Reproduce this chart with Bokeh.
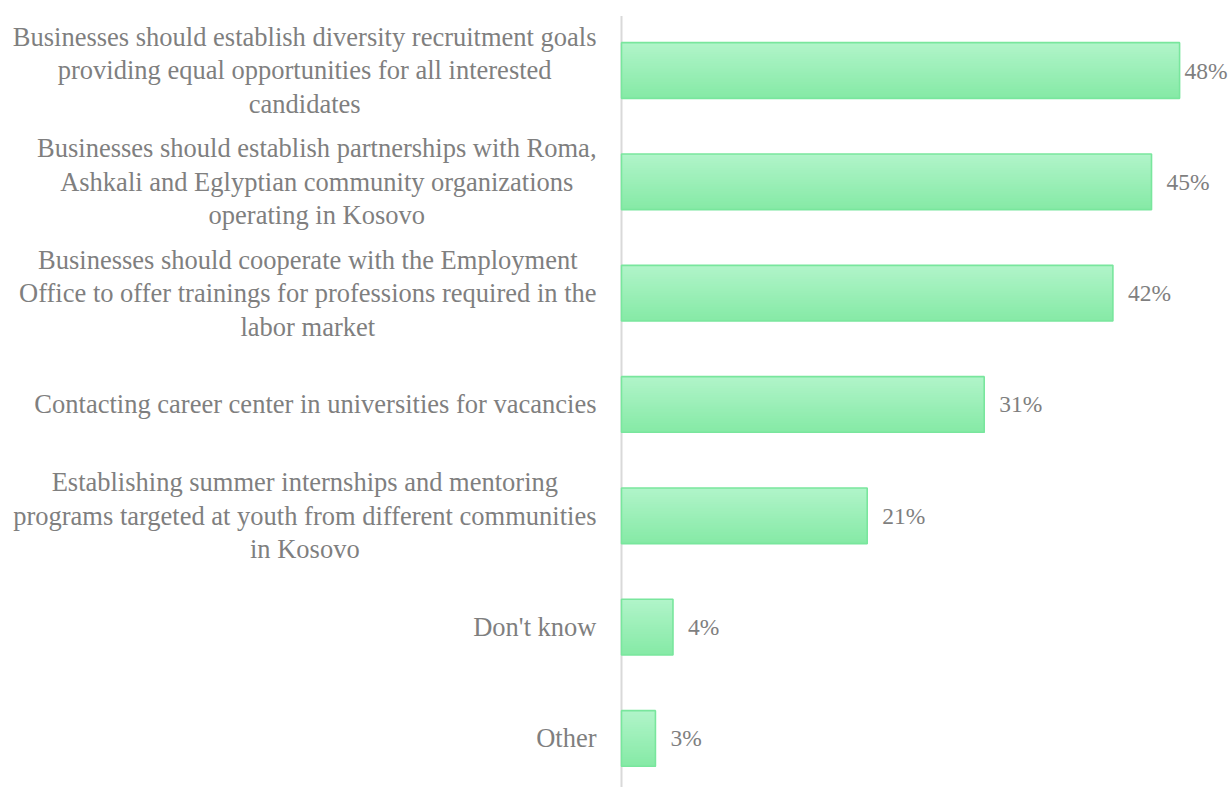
from bokeh.plotting import figure
from bokeh.models import Range1d, ColumnDataSource
from bokeh.core.properties import value
from bokeh.embed import file_html
from bokeh.resources import INLINE
import numpy as np

# ---- data ----
categories = [
    "Businesses should establish diversity recruitment goals\nproviding equal opportunities for all interested\ncandidates",
    "Businesses should establish partnerships with Roma,\nAshkali and Eglyptian community organizations\noperating in Kosovo",
    "Businesses should cooperate with the Employment\nOffice to offer trainings for professions required in the\nlabor market",
    "Contacting career center in universities for vacancies",
    "Establishing summer internships and mentoring\nprograms targeted at youth from different communities\nin Kosovo",
    "Don't know",
    "Other",
]
values = [47.7, 45.3, 42.0, 31.0, 21.0, 4.4, 2.9]
value_labels = ["48%", "45%", "42%", "31%", "21%", "4%", "3%"]

# ---- layout ----
W, H = 1231, 787
PX_PER_UNIT = 11.7          # horizontal scale (px per %)
ZERO_PX = 621               # x pixel of 0 inside the figure
ROW_PX = 111.33             # row spacing in px
FIRST_ROW_PX = 70           # y pixel of first row centre inside the figure

n = len(categories)
idx = np.arange(n)
x_start = -ZERO_PX / PX_PER_UNIT
x_end = (W - ZERO_PX) / PX_PER_UNIT
y_top = -FIRST_ROW_PX / ROW_PX
y_bottom = (H - FIRST_ROW_PX) / ROW_PX

p = figure(width=W, height=H, output_backend="svg", toolbar_location=None,
           x_range=Range1d(x_start, x_end), y_range=Range1d(y_bottom, y_top),
           min_border=0, min_border_left=0, min_border_right=0,
           min_border_top=0, min_border_bottom=0)
p.axis.visible = False
p.grid.visible = False
p.outline_line_color = None
p.background_fill_color = "white"
p.border_fill_color = "white"

# vertical axis line
p.line(x=[0, 0], y=[-0.49, n + 0.5], line_color="#d9d9d9", line_width=2)

# gradient bars (each band runs from its top down to the bar bottom)
bar_h = 0.5
N = 24
top_rgb = np.array([0xb0, 0xf4, 0xc9])
bot_rgb = np.array([0x86, 0xea, 0xa6])
for k in range(N):
    t = k / (N - 1)
    c = top_rgb * (1 - t) + bot_rgb * t
    col = "#%02x%02x%02x" % tuple(int(round(v)) for v in c)
    top = idx - bar_h / 2 + k * bar_h / N
    bottom = idx + bar_h / 2
    p.hbar(y=(top + bottom) / 2, left=0, right=values, height=bottom - top,
           fill_color=col, line_color=None)

# bar outlines
p.hbar(y=idx, left=0, right=values, height=bar_h, fill_color=None,
       line_color="#79e69d", line_width=1.6)

# category labels
src = ColumnDataSource(dict(x=[0] * n, y=idx, text=categories))
p.text(x="x", y="y", text="text", source=src, x_offset=-25,
       text_align="center", anchor="center_right", text_baseline="middle",
       text_font=value("Liberation Serif"), text_font_size="26.5px",
       text_color="#7f7f7f", text_line_height=1.12)

# value labels
label_w_units = 47 / PX_PER_UNIT
lx = [min(v + 15 / PX_PER_UNIT, x_end - label_w_units) for v in values]
src2 = ColumnDataSource(dict(x=lx, y=idx, text=value_labels))
p.text(x="x", y="y", text="text", source=src2, text_align="left",
       text_baseline="middle", text_font=value("Liberation Serif"),
       text_font_size="23.5px", text_color="#7f7f7f")

open("out.html", "w").write(file_html(p, INLINE))
